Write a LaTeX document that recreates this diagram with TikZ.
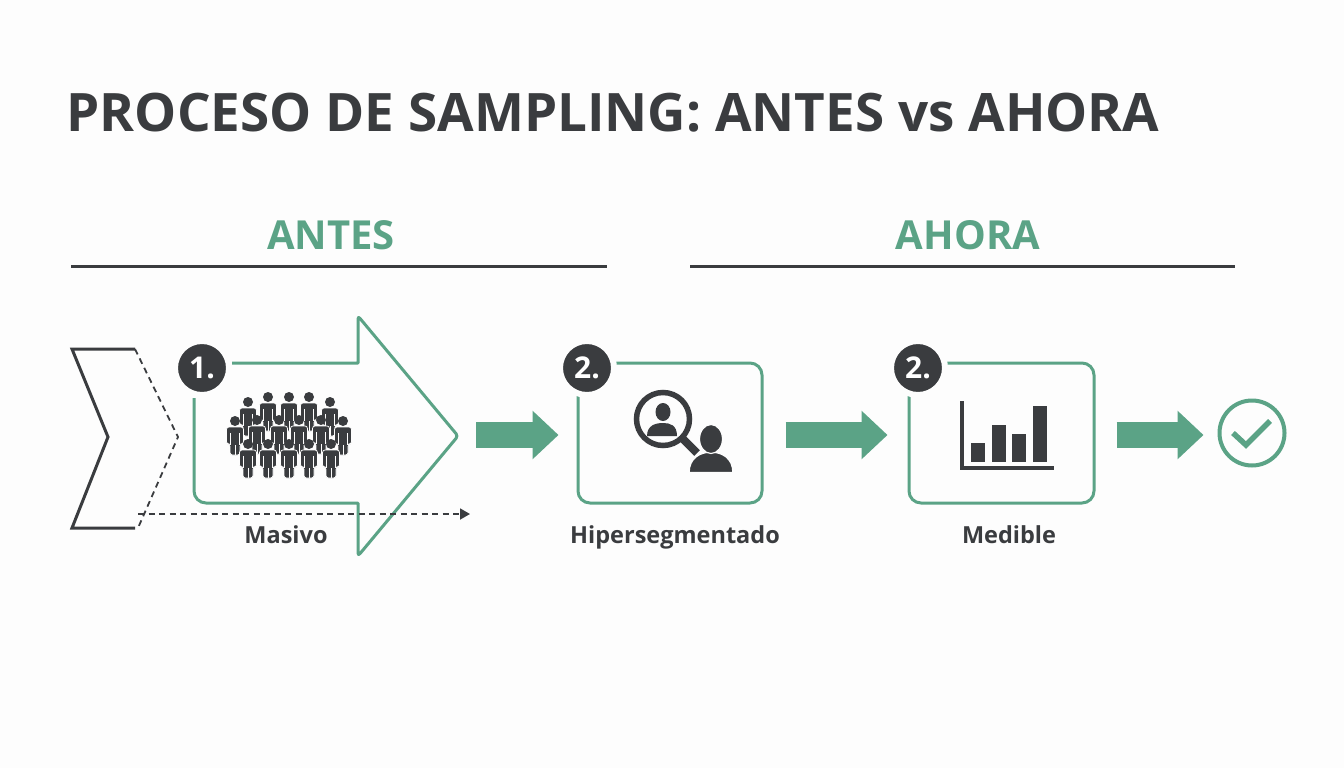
\documentclass[tikz,border=0pt]{standalone}
\usepackage{fontspec}
\setmainfont{Open Sans}
\usetikzlibrary{arrows.meta}

\definecolor{inkdark}{HTML}{3A3C3F}
\definecolor{leafgreen}{HTML}{5BA386}
\definecolor{paper}{HTML}{FDFDFD}

\newcommand{\pxfont}[1]{\fontsize{#1}{#1}\selectfont\bfseries}

\tikzset{
	stepbox/.style={draw=leafgreen, line width=3pt, rounded corners=12pt, minimum width=184pt, minimum height=140pt, inner sep=0pt},
	stepline/.style={draw=leafgreen, line width=3pt, line join=round},
	badge/.style={circle, fill=inkdark, draw=paper, line width=6pt, minimum size=54pt, inner sep=0pt, text=white, font=\pxfont{30}},
	steplabel/.style={text=inkdark, inner sep=0pt, anchor=base, font=\pxfont{23.5}},
	headlabel/.style={text=leafgreen, inner sep=0pt, font=\pxfont{40}},
	flowarrow/.style={draw=leafgreen, line width=26pt, -{Triangle[length=26pt,width=47pt]}},
	dashline/.style={inkdark, line width=1.8pt, dash pattern=on 6pt off 4.5pt},
	person/.pic={
		\fill[inkdark] (0,0) circle (5);
		\draw[paper, line width=0.7pt, fill=inkdark, rounded corners=2.5pt] (-8.5,6) -- (8.5,6) -- (8.5,23) -- (5,23) -- (5,34) -- (-5,34) -- (-5,23) -- (-8.5,23) -- cycle;
		\draw[paper, line width=0.7pt] (-4.8,12) -- (-4.8,24) (4.8,12) -- (4.8,24) (0,24) -- (0,34);
	},
}

\begin{document}
\begin{tikzpicture}[x=1pt, y=-1pt]
	\useasboundingbox[fill=paper] (0,0) rectangle (1344,768);

	\node[text=inkdark, inner sep=0pt, font=\pxfont{53}] (title) at (613,113) {PROCESO DE SAMPLING: ANTES vs AHORA};

	\node[headlabel] (antes) at (331,235) {ANTES};
	\node[headlabel] (ahora) at (968,235) {AHORA};
	\draw[inkdark, line width=3pt] (71,266) -- (607,266);
	\draw[inkdark, line width=3pt] (690,266) -- (1235,266);

	% old funnel shape on the left
	\draw[inkdark, line width=3pt] (135,349) -- (72,349) -- (108,437) -- (72,528) -- (135,528);
	\draw[dashline] (135,349) -- (178,437) -- (138,528);

	\coordinate (dashstart) at (138,514);
	\coordinate (dashend) at (470,514);

	% step 1
	\draw[stepline] (232,363) -- (358,363) [rounded corners=3pt] -- (358,316) -- (458,436) -- (358,556) [sharp corners] -- (358,503) [rounded corners=12pt] -- (194,503) [sharp corners] -- (194,398);
	\coordinate (arrowtip) at (458,435);
	\draw[dashline, -{Triangle[length=10pt,width=11pt]}] (dashstart) -- (dashend);
	\node[badge] (badgeone) at (202,368) {1.};
	\node[steplabel] (masivo) at (286,543) {Masivo};

	\foreach \px/\py in {248/402, 268/397, 289/397, 309/397, 330/402,
		235/421, 257/420, 279/420, 299/420, 321/420, 343/421,
		248/444, 268/444, 289/444, 309/444, 331/444}
		\pic at (\px,\py) {person};

	% step 2
	\node[stepbox] (boxtwo) at (670,433) {};
	\node[badge] (badgetwo) at (587,368) {2.};
	\node[steplabel] (hiper) at (675,543) {Hipersegmentado};

	\draw[inkdark, line width=5.5pt] (663,419) circle (26.5);
	\draw[inkdark, line width=8pt] (682,438) -- (697,453);
	\fill[inkdark] (663,412) ellipse (7.5 and 9);
	\fill[inkdark] (647,436) .. controls (647,425) and (656,423) .. (663,423) .. controls (670,423) and (677,425) .. (677,436) -- cycle;
	\draw[paper, line width=1.5pt, fill=inkdark] (689,472.5) .. controls (689,458) and (700,452) .. (711,452) .. controls (722,452) and (733,458) .. (733,472.5) -- cycle;
	\draw[paper, line width=1.2pt, fill=inkdark] (711,439) ellipse (11.5 and 14.5);

	% step 3
	\node[stepbox, minimum width=185pt] (boxthree) at (1001.5,433) {};
	\node[badge] (badgethree) at (918,368) {2.};
	\node[steplabel] (medible) at (1009,543) {Medible};

	\draw[inkdark, line width=4.5pt] (962,401) -- (962,468) -- (1054,468);
	\foreach \barx/\bartop in {971/443, 992/425, 1012/434, 1033/406}
		\fill[inkdark] (\barx,\bartop) rectangle ++(14,462-\bartop);

	% end mark
	\node[circle, draw=leafgreen, line width=4pt, minimum size=65pt, inner sep=0pt] (donemark) at (1252,433) {};
	\draw[leafgreen, line width=5.5pt] (1233,433) -- (1246,445) -- (1270,421);

	% flow between the steps
	\draw[flowarrow, shorten <=18pt, shorten >=18pt] (arrowtip) -- ([yshift=-2pt]boxtwo.west);
	\draw[flowarrow, shorten <=22pt, shorten >=20pt] ([yshift=-2pt]boxtwo.east) -- ([yshift=-2pt]boxthree.west);
	\draw[flowarrow, shorten <=21pt, shorten >=14pt] ([yshift=-2pt]boxthree.east) -- ([yshift=-2pt]donemark.west);
\end{tikzpicture}
\end{document}
